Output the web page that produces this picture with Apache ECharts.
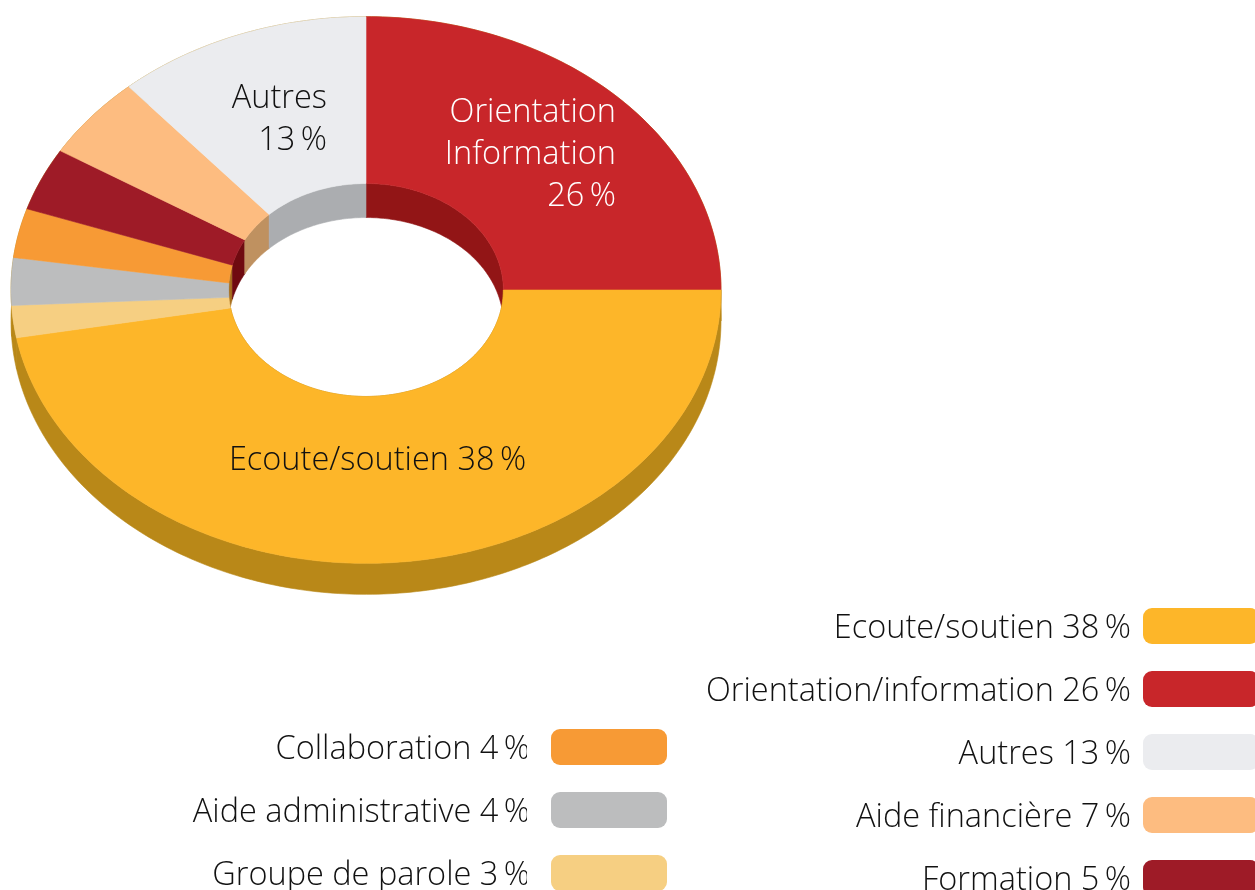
<!DOCTYPE HTML>
<html lang="fr">
  <head>
    <meta charset="utf-8" />
    <script src="https://cdn.jsdelivr.net/npm/echarts@6/dist/echarts.min.js"></script>
    <style>
      html, body {
        height: 100%;
        padding: 0;
        margin: 0;
        background: #fff;
        overflow: hidden;
      }
      #chart {
        width: 1255px;
        height: 890px;
      }
    </style>
  </head>
  <body>
    <div id="chart"></div>
    <script>
      // clockwise from 12 o'clock, the way the slices sit on the ring
      var categories = ['Orientation/information', 'Ecoute/soutien', 'Groupe de parole', 'Aide administrative',
        'Collaboration', 'Formation', 'Aide financière', 'Autres'];
      // the printed percentages
      var percents = [26, 38, 3, 4, 4, 5, 7, 13];
      // how much of the ring each slice really covers in the picture (not the printed numbers),
      // read at the outer edge and at the hole because the drawn rays miss the centre a little
      var outerShares = [25, 47.2, 1.9, 2.8, 2.9, 3.7, 4.85, 11.65];
      var innerShares = [25, 47.3, 1.6, 2.15, 2.7, 4.05, 4.75, 12.45];
      var topColors = ['#c8262a', '#fdb629', '#f6cf82', '#bcbdbe', '#f79a35', '#9e1b27', '#fdbc80', '#ebecef'];
      var wallColors = ['#921516', '#b98818', '#c29a4e', '#8f9090', '#a87020', '#6f0a10', '#bf9160', '#abadb0'];
      var legendRight = ['Ecoute/soutien', 'Orientation/information', 'Autres', 'Aide financière', 'Formation'];
      var legendLeft = ['Collaboration', 'Aide administrative', 'Groupe de parole'];

      var centerY = 290;
      var squash = 0.77;
      var holeSquash = 0.775;
      var holeRadius = 0.387;
      var sideDepth = 31;
      var wallDepth = 34;
      var fontName = '"Open Sans", sans-serif';
      var textColor = '#111111';

      var total = outerShares.reduce(function (a, b) { return a + b; }, 0);

      function cumulate(list) {
        var out = [];
        var running = 0;
        list.forEach(function (v) {
          out.push([running, running + v]);
          running += v;
        });
        return out;
      }
      var outerRanges = cumulate(outerShares);
      var innerRanges = cumulate(innerShares);

      function pctText(name) {
        return name + ' ' + percents[categories.indexOf(name)] + '\u2009%';
      }

      // points along an arc of the polar system, flattened into an ellipse and pushed down by depth
      function arc(api, radius, from, to, depth) {
        var flat = radius === 1 ? squash : holeSquash;
        var pts = [];
        var steps = Math.max(2, Math.ceil((to - from) / 0.25));
        for (var s = 0; s <= steps; s++) {
          var p = api.coord([radius, from + (to - from) * s / steps]);
          pts.push([p[0], centerY + (p[1] - centerY) * flat + depth]);
        }
        return pts;
      }

      function poly(points, color, z2) {
        return {
          type: 'polygon',
          z2: z2,
          shape: { points: points },
          style: { fill: color, stroke: color, lineWidth: 0.6 }
        };
      }

      function makeRender(i) {
        return function (params, api) {
          var oFrom = api.value(0);
          var oTo = api.value(1);
          var iFrom = api.value(2);
          var iTo = api.value(3);
          var outer = arc(api, 1, oFrom, oTo, 0);
          var inner = arc(api, holeRadius, iFrom, iTo, 0);
          return {
            type: 'group',
            children: [
              poly(outer.concat(arc(api, 1, oFrom, oTo, sideDepth).reverse()), wallColors[1], 1),
              poly(inner.concat(arc(api, holeRadius, iFrom, iTo, wallDepth).reverse()), wallColors[i], 2),
              poly(outer.concat(inner.slice().reverse()), topColors[i], 10)
            ]
          };
        };
      }

      var series = categories.map(function (name, i) {
        return {
          type: 'custom',
          name: name,
          coordinateSystem: 'polar',
          silent: true,
          itemStyle: { color: topColors[i] },
          renderItem: makeRender(i),
          data: [outerRanges[i].concat(innerRanges[i])]
        };
      });

      function legendFor(names, right, top, gap) {
        return {
          orient: 'vertical',
          align: 'right',
          right: right,
          top: top,
          height: 320,
          padding: 0,
          icon: 'roundRect',
          itemWidth: 116,
          itemHeight: 36,
          itemGap: 25.5,
          selectedMode: false,
          data: names,
          formatter: function (name) {
            return '{t|' + pctText(name) + '}';
          },
          textStyle: {
            rich: {
              t: {
                fontFamily: fontName,
                fontWeight: 300,
                fontSize: 32.5,
                color: textColor,
                padding: [6, gap, 0, 0]
              }
            }
          }
        };
      }

      function sliceLabel(text, x, y, align, color) {
        return {
          type: 'text',
          x: x,
          y: y,
          z: 20,
          silent: true,
          style: {
            text: text,
            align: align,
            verticalAlign: 'top',
            fill: color,
            fontFamily: fontName,
            fontWeight: 300,
            fontSize: 32.5,
            lineHeight: 42
          }
        };
      }

      var option = {
        animation: false,
        polar: { center: [366, centerY], radius: 355 },
        radiusAxis: { show: false, min: 0, max: 1 },
        angleAxis: { show: false, min: 0, max: total, startAngle: 90 },
        legend: [legendFor(legendRight, -4, 608, 7), legendFor(legendLeft, 588, 729, 16)],
        graphic: [
          sliceLabel('Autres\n13\u2009%', 327, 78, 'right', textColor),
          sliceLabel('Orientation\nInformation\n26\u2009%', 616, 92, 'right', '#ffffff'),
          sliceLabel('Ecoute/soutien 38\u2009%', 377.5, 440, 'center', textColor),
          // the left legend's percent signs are cut off in the original
          {
            type: 'rect',
            z: 20,
            silent: true,
            shape: { x: 527, y: 729, width: 20, height: 161 },
            style: { fill: '#ffffff' }
          }
        ],
        series: series
      };

      var myChart = echarts.init(document.getElementById('chart'));
      myChart.setOption(option);
    </script>
  </body>
</html>
